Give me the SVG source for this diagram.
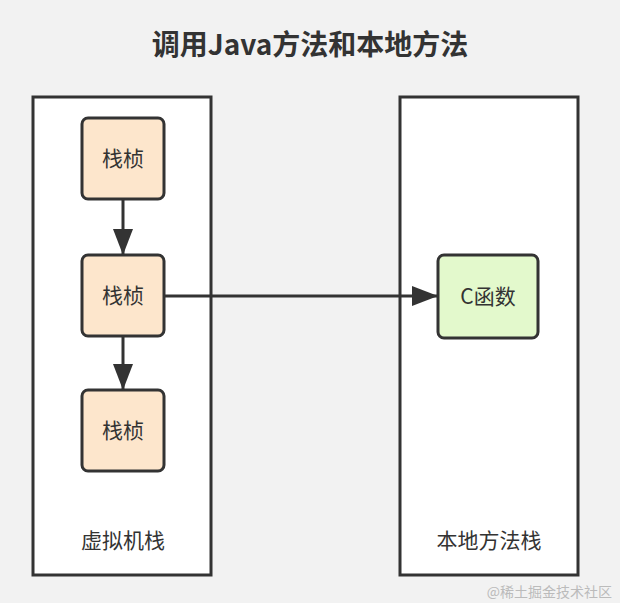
<svg xmlns="http://www.w3.org/2000/svg" width="620" height="603" viewBox="0 0 620 603">
<style>
text{font-family:"Noto Sans CJK SC","Liberation Sans",sans-serif;fill:#333}
.cont{fill:#fff;stroke:#333;stroke-width:3}
.frame{fill:#fde6cc;stroke:#333;stroke-width:3}
.cfunc{fill:#e3f9cc;stroke:#333;stroke-width:3}
.lbl{font-size:21px;text-anchor:middle}
.edge{stroke:#333;stroke-width:3;fill:none}
</style>
<defs>
<marker id="ahb" viewBox="0 0 26 20" refX="26" refY="10" markerWidth="26" markerHeight="20" orient="auto" markerUnits="userSpaceOnUse">
<path d="M0,0 L26,10 L0,20 Z" fill="#333"/>
</marker>
</defs>
<rect width="620" height="603" fill="#f2f2f2"/>
<text x="310" y="55" style="font-size:28px;font-weight:bold;text-anchor:middle">调用Java方法和本地方法</text>
<g id="vm-stack">
<rect class="cont" x="33" y="97" width="178" height="478"/>
<text class="lbl" x="123" y="548">虚拟机栈</text>
</g>
<g id="native-stack">
<rect class="cont" x="400" y="97" width="178" height="478"/>
<text class="lbl" x="489" y="548">本地方法栈</text>
</g>
<g id="frame1">
<rect class="frame" x="82" y="118" width="82" height="81" rx="6"/>
<text class="lbl" x="123" y="166">栈桢</text>
</g>
<g id="frame2">
<rect class="frame" x="82" y="255" width="82" height="81" rx="6"/>
<text class="lbl" x="123" y="303">栈桢</text>
</g>
<g id="frame3">
<rect class="frame" x="82" y="390" width="82" height="81" rx="6"/>
<text class="lbl" x="123" y="438">栈桢</text>
</g>
<g id="cfunc">
<rect class="cfunc" x="438" y="255" width="100" height="83" rx="6"/>
<text class="lbl" x="488" y="304">C函数</text>
</g>
<g id="connectors">
<line class="edge" x1="123" y1="199" x2="123" y2="255" marker-end="url(#ahb)"/>
<line class="edge" x1="123" y1="336" x2="123" y2="390" marker-end="url(#ahb)"/>
<line class="edge" x1="164" y1="296" x2="438" y2="296" marker-end="url(#ahb)"/>
</g>
<text x="612" y="597" style="font-size:14px;fill:#bbb;text-anchor:end">@稀土掘金技术社区</text>
</svg>
